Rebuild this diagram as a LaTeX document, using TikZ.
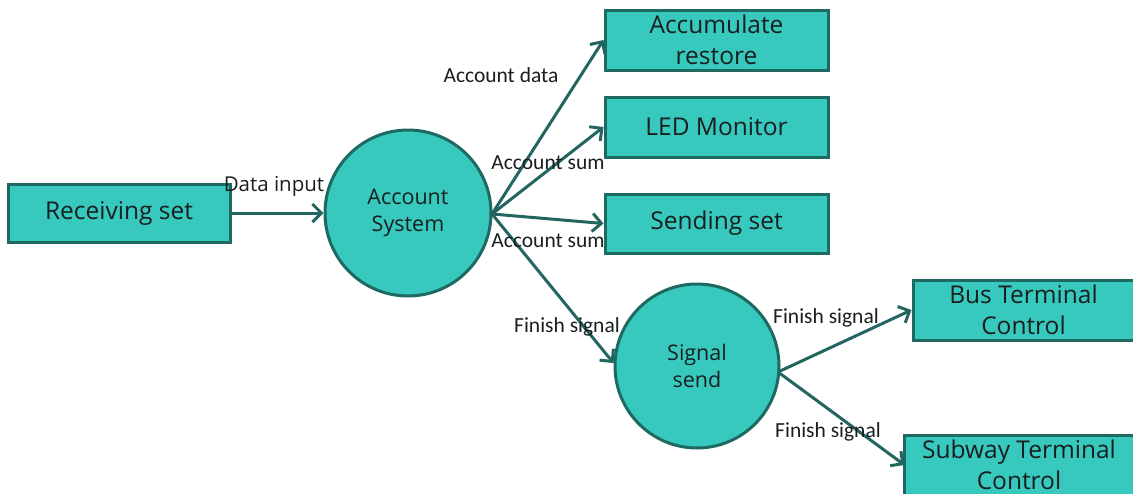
\documentclass[tikz,border=0pt]{standalone}
\usepackage{fontspec}
\setmainfont{Open Sans}
\newfontfamily\lblfont{Carlito}
\usetikzlibrary{arrows.meta}
\definecolor{tealfill}{RGB}{56,201,190}
\definecolor{tealedge}{RGB}{30,105,98}
\definecolor{arrowc}{RGB}{35,102,96}
\definecolor{txt}{RGB}{25,30,30}
\tikzset{
  boxnode/.style={draw=tealedge, line width=3pt, fill=tealfill, text=txt, inner sep=0pt, align=center,
     font=\fontsize{24.5}{31}\selectfont},
  circnode/.style={circle, draw=tealedge, line width=3pt, fill=tealfill, text=txt, inner sep=0pt, align=center,
     font=\fontsize{21.5}{27}\selectfont},
  conn/.style={draw=arrowc, line width=3pt, -{Straight Barb[length=9pt,width=18pt,line width=3pt]}},
  lbl/.style={text=txt, inner sep=0pt, font=\lblfont\fontsize{21.5}{24}\selectfont},
  lbl2/.style={text=txt, inner sep=0pt, font=\fontsize{20.5}{24}\selectfont},
}
\begin{document}
\begin{tikzpicture}[x=1pt,y=-1pt]
\useasboundingbox (0,0) rectangle (1133,493);
\node[boxnode, minimum width=222pt, minimum height=58pt] (recv) at (119,213) {Receiving set};
\node[circnode, minimum size=166pt] (acct) at (408,213) {Account\\System};
\node[boxnode, minimum width=223pt, minimum height=60pt] (accum) at (716.5,40) {Accumulate\\restore};
\node[boxnode, minimum width=223pt, minimum height=60pt] (led) at (716.5,127) {LED Monitor};
\node[boxnode, minimum width=223pt, minimum height=59pt] (send) at (716.5,223.5) {Sending set};
\node[circnode, minimum size=164pt] (sig) at (697,366) {Signal\\send};
\node[boxnode, minimum width=221pt, minimum height=60pt] (bus) at (1023.5,310) {Bus Terminal\\Control};
\node[boxnode, minimum width=230pt, minimum height=60pt] (sub) at (1019,465) {Subway Terminal\\Control};

\coordinate (ao) at (492,214);
\coordinate (so) at (778,372);
\draw[conn] (recv.east) -- (acct.west);
\draw[conn] (ao) -- (accum.west);
\draw[conn] (ao) -- (led.west);
\draw[conn] (ao) -- (send.west);
\draw[conn] (ao) -- (sig.178);
\draw[conn] (so) -- (bus.west);
\draw[conn] (so) -- ([xshift=2pt]sub.west);

\node[lbl2] (l0) at (274,186) {Data input};
\node[lbl] (l1) at (501,75) {Account data};
\node[lbl] (l2) at (548,163) {Account sum};
\node[lbl] (l3) at (548,241) {Account sum};
\node[lbl] (l4) at (567,327) {Finish signal};
\node[lbl] (l5) at (826,318) {Finish signal};
\node[lbl] (l6) at (828,432) {Finish signal};
\end{tikzpicture}
\end{document}
